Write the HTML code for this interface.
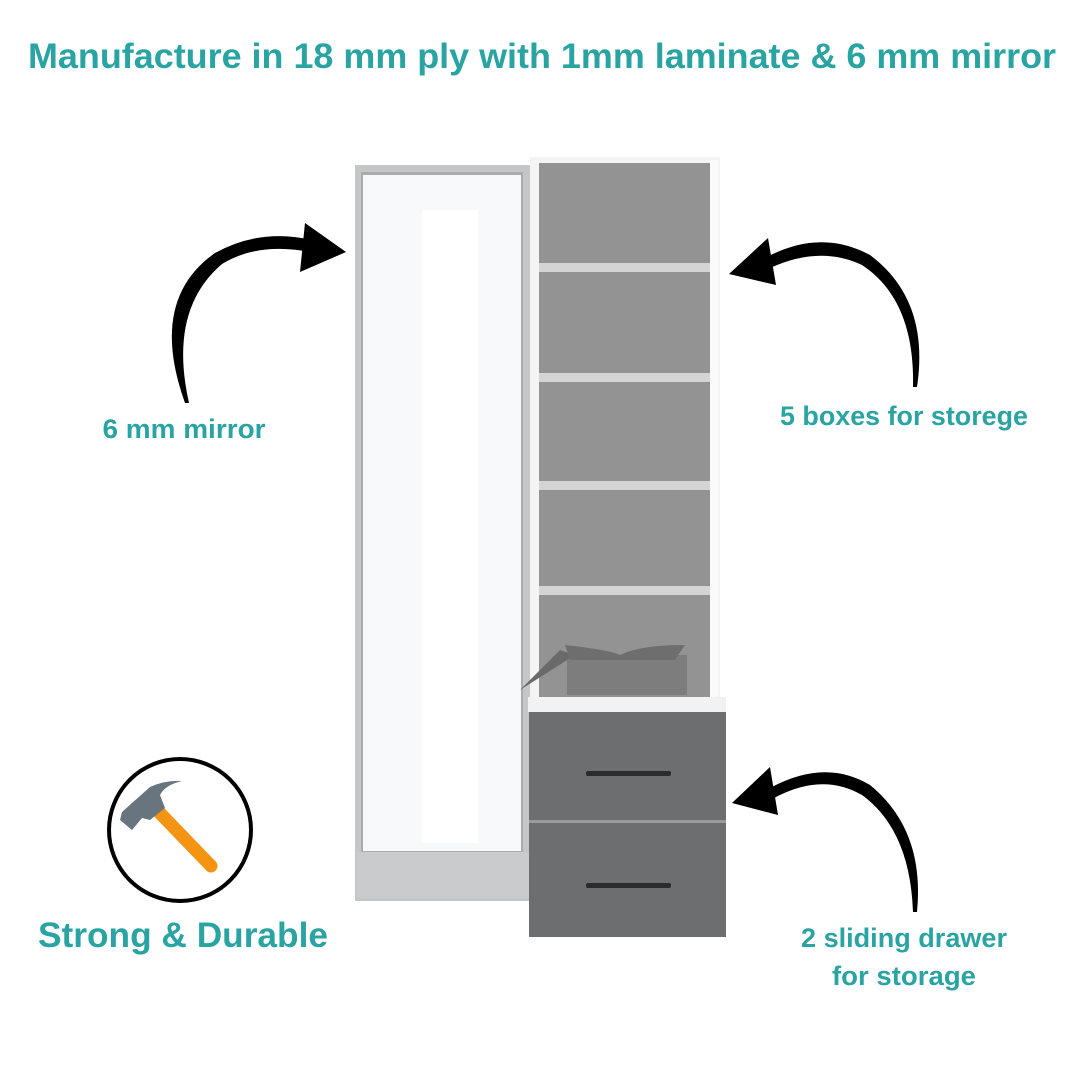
<!DOCTYPE html>
<html><head><meta charset="utf-8"><style>
html,body{margin:0;padding:0;background:#fff}
svg{display:block}
text{font-family:"Liberation Sans",sans-serif;font-weight:bold;fill:#2aa3a3}
</style></head><body>
<svg width="1080" height="1080" viewBox="0 0 1080 1080">
<text x="542" y="68" font-size="35" text-anchor="middle" textLength="1028" lengthAdjust="spacingAndGlyphs">Manufacture in 18 mm ply with 1mm laminate &amp; 6 mm mirror</text>

<!-- left mirror unit -->
<rect x="355" y="165" width="177" height="736" fill="#c4c6c8"/>
<rect x="361" y="172" width="162" height="682" fill="#a9acaf"/>
<rect x="363" y="175" width="158" height="676" fill="#f8f9fa"/>
<rect x="422" y="210" width="56" height="633" fill="#fff"/>
<rect x="357" y="852" width="173" height="46" fill="#c9cbcd"/>

<!-- right unit -->
<rect x="530" y="157" width="190" height="545" fill="#f4f4f4"/>
<rect x="539" y="163" width="171" height="538" fill="#939393"/>
<g fill="#d4d4d4">
<rect x="539" y="263" width="171" height="9"/>
<rect x="539" y="373" width="171" height="9"/>
<rect x="539" y="481" width="171" height="9"/>
<rect x="539" y="586" width="171" height="9"/>
</g>
<rect x="710" y="160" width="8" height="540" fill="#fafafa"/>
<!-- gift box -->
<rect x="567" y="655" width="120" height="40" fill="#7d7d7d"/>
<path d="M520 690 L575 655 L560 650 Z" fill="#6a6a6a"/>
<path d="M565 645 Q610 650 620 655 Q640 645 685 645 L675 660 L570 660 Z" fill="#6e6e6e"/>
<!-- counter -->
<rect x="528" y="697" width="198" height="15" fill="#f2f2f2"/>
<!-- drawers -->
<rect x="529" y="712" width="197" height="109" fill="#6d6e70"/>
<rect x="529" y="823" width="197" height="114" fill="#6d6e70"/>
<rect x="529" y="820" width="197" height="3" fill="#9a9a9a"/>
<rect x="586" y="771" width="85" height="5" rx="2" fill="#2c2c2c"/>
<rect x="586" y="883" width="85" height="5" rx="2" fill="#2c2c2c"/>

<!-- arrows -->
<path d="M185 403 Q148 300 215 253 Q260 228 312 240 L310 252 Q258 242 222 264 Q168 310 189 403 Z" fill="#000"/>
<polygon points="305,223 346,252 300,272" fill="#000"/>

<path d="M917 387 Q930 300 870 255 Q820 228 765 258 L770 268 Q820 245 862 265 Q915 300 913 387 Z" fill="#000"/>
<polygon points="768,238 729,274 776,285" fill="#000"/>

<path d="M917 912 Q925 830 870 785 Q825 758 770 788 L774 798 Q822 772 862 795 Q910 830 913 912 Z" fill="#000"/>
<polygon points="770,767 732,803 778,815" fill="#000"/>

<text x="184" y="438" font-size="27" text-anchor="middle" textLength="163" lengthAdjust="spacingAndGlyphs">6 mm mirror</text>
<text x="904" y="425" font-size="27" text-anchor="middle" textLength="248" lengthAdjust="spacingAndGlyphs">5 boxes for storege</text>
<text x="904" y="947" font-size="27" text-anchor="middle" textLength="206" lengthAdjust="spacingAndGlyphs">2 sliding drawer</text>
<text x="904" y="985" font-size="27" text-anchor="middle" textLength="144" lengthAdjust="spacingAndGlyphs">for storage</text>
<text x="183" y="947" font-size="35" text-anchor="middle" textLength="290" lengthAdjust="spacingAndGlyphs">Strong &amp; Durable</text>

<!-- hammer icon -->
<circle cx="180" cy="830" r="71" fill="#fff" stroke="#000" stroke-width="4"/>
<line x1="157" y1="810" x2="211" y2="866" stroke="#f39412" stroke-width="13" stroke-linecap="round"/>
<path d="M122 812 L150 787 Q165 780 182 781 Q165 785 160 795 L165 808 L150 820 L142 818 L132 830 L120 820 Z" fill="#68757f"/>
</svg>
</body></html>
